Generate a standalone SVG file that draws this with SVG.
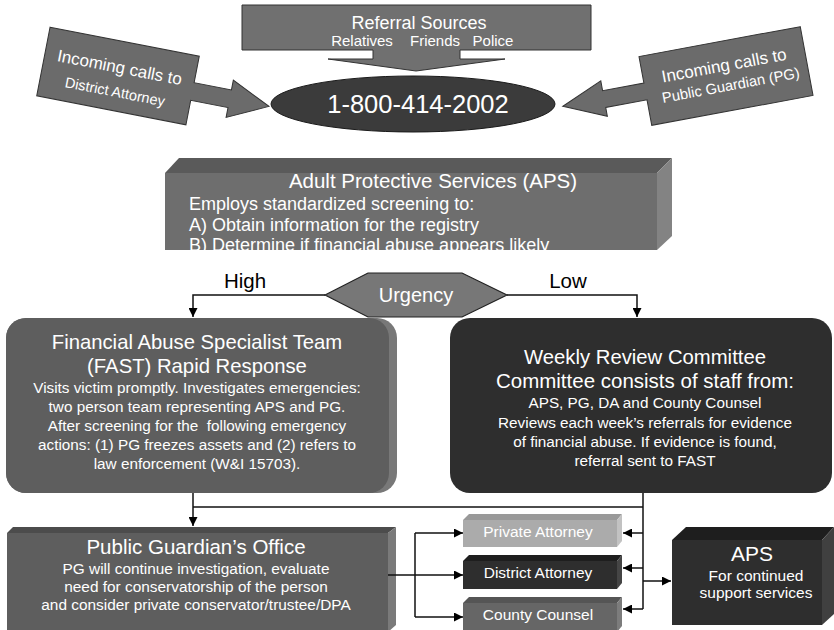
<svg xmlns="http://www.w3.org/2000/svg" width="834" height="630" viewBox="0 0 834 630">
<defs>
<style>
text{font-family:"Liberation Sans",Arial,Helvetica,sans-serif;fill:#fff;text-anchor:middle}
.blk{fill:#000}
.ln{fill:none;stroke:#111;stroke-width:1.5}
.sh{stroke:#333;stroke-width:1}
</style>
<marker id="ah" viewBox="0 0 10 10" refX="10" refY="5" markerWidth="9" markerHeight="9" markerUnits="userSpaceOnUse" orient="auto"><path d="M0,0 L10,5 L0,10 z" fill="#000"/></marker>
<clipPath id="apsclip"><rect x="165" y="160" width="492" height="90"/></clipPath>
</defs>
<rect width="834" height="630" fill="#fff"/>

<g id="referral">
<path class="sh" d="M242,5 H591 V50 H460 V59 H505 L416,71 L328,59 H373 V50 H242 Z" fill="#707070"/>
<text x="419" y="29" font-size="18">Referral Sources</text>
<text font-size="15" y="46"><tspan x="362">Relatives</tspan><tspan x="435">Friends</tspan><tspan x="493">Police</tspan></text>
</g>

<g id="da-calls" transform="translate(118,76) rotate(11)">
<path class="sh" d="M-76,-35 H76 V-8 H114 V-18 L154,1 L114,20 V10 H76 V35 H-76 Z" fill="#6b6b6b"/>
<text x="0" y="-3" font-size="17">Incoming calls to</text>
<text x="0" y="21" font-size="14.5">District Attorney</text>
</g>

<g id="pg-calls" transform="translate(726,76) rotate(-10.5)">
<path class="sh" d="M82,-35 H-82 V-8 H-124 V-18 L-166,0 L-124,18 V9 H-82 V35 H82 Z" fill="#6b6b6b"/>
<text x="0" y="-5" font-size="17">Incoming calls to</text>
<text x="3" y="15" font-size="14.7">Public Guardian (PG)</text>
</g>

<g id="hotline">
<ellipse cx="413" cy="104" rx="142" ry="28" fill="#3b3b3b" stroke="#1a1a1a" stroke-width="1"/>
<text x="418" y="113" font-size="25.5">1-800-414-2002</text>
</g>

<g id="aps">
<polygon points="165,173 179,158 672,158 657,173" fill="#5a5a5a"/>
<polygon points="657,173 672,158 672,236 657,250" fill="#838383"/>
<rect x="165" y="173" width="492" height="77" fill="#6e6e6e"/>
<text x="433" y="188" font-size="20.5">Adult Protective Services (APS)</text>
<g clip-path="url(#apsclip)" style="text-anchor:start">
<text x="189" y="210" font-size="18" style="text-anchor:start">Employs standardized screening to:</text>
<text x="189" y="231" font-size="18" style="text-anchor:start">A) Obtain information for the registry</text>
<text x="189" y="251" font-size="18" style="text-anchor:start">B) Determine if financial abuse appears likely</text>
</g>
</g>

<g id="urgency">
<polygon points="325,295 368,273 462,273 507,295 462,317 368,317" fill="#777" stroke="#222" stroke-width="1.2"/>
<text x="416" y="302" font-size="20">Urgency</text>
</g>
<text class="blk" x="245" y="288" font-size="20.5">High</text>
<text class="blk" x="568" y="288" font-size="20.5">Low</text>

<g id="fast">
<rect x="6" y="318" width="391" height="175" rx="20" fill="#787878"/>
<rect x="6" y="318" width="383" height="175" rx="20" fill="#5e5e5e"/>
<text x="197" y="349" font-size="20.3">Financial Abuse Specialist Team</text>
<text x="197" y="373" font-size="20.3">(FAST) Rapid Response</text>
<text x="197" y="393" font-size="15.3">Visits victim promptly. Investigates emergencies:</text>
<text x="197" y="412" font-size="15.3">two person team representing APS and PG.</text>
<text x="197" y="431" font-size="15.3" xml:space="preserve">After screening for the  following emergency</text>
<text x="197" y="450" font-size="15.3">actions: (1) PG freezes assets and (2) refers to</text>
<text x="197" y="469" font-size="15.3">law enforcement (W&amp;I 15703).</text>
</g>

<g id="weekly">
<rect x="450" y="318" width="382" height="175" rx="20" fill="#2e2e2e"/>
<text x="645" y="364" font-size="20.3">Weekly Review Committee</text>
<text x="645" y="388" font-size="20.5">Committee consists of staff from:</text>
<text x="645" y="408" font-size="15.3">APS, PG, DA and County Counsel</text>
<text x="645" y="428" font-size="15.3">Reviews each week’s referrals for evidence</text>
<text x="645" y="447" font-size="15.3">of financial abuse. If evidence is found,</text>
<text x="645" y="466" font-size="15.3">referral sent to FAST</text>
</g>

<g id="pg-office">
<polygon points="7,533 13,527 396,527 388,533" fill="#4c4c4c"/>
<polygon points="388,533 396,527 396,625 388,632" fill="#7a7a7a"/>
<rect x="7" y="533" width="381" height="99" fill="#5e5e5e"/>
<text x="196" y="554" font-size="20.5">Public Guardian’s Office</text>
<text x="196" y="574" font-size="15.4">PG will continue investigation, evaluate</text>
<text x="196" y="592" font-size="15.4">need for conservatorship of the person</text>
<text x="196" y="610" font-size="15.4">and consider private conservator/trustee/DPA</text>
</g>

<g id="private-attorney">
<polygon points="463,520 469,514 622,514 617,520" fill="#999"/>
<polygon points="617,520 622,514 622,541 617,547" fill="#c2c2c2"/>
<rect x="463" y="520" width="154" height="27" fill="#ababab"/>
<text x="538" y="537" font-size="15.5">Private Attorney</text>
</g>

<g id="district-attorney">
<polygon points="463,561 469,555 622,555 617,561" fill="#1e1e1e"/>
<polygon points="617,561 622,555 622,583 617,589" fill="#454545"/>
<rect x="463" y="561" width="154" height="28" fill="#2e2e2e"/>
<text x="538" y="578" font-size="15.5">District Attorney</text>
</g>

<g id="county-counsel">
<polygon points="463,603 469,597 622,597 617,603" fill="#555"/>
<polygon points="617,603 622,597 622,626 617,632" fill="#7c7c7c"/>
<rect x="463" y="603" width="154" height="29" fill="#666"/>
<text x="538" y="620" font-size="15.5">County Counsel</text>
</g>

<g id="aps-support">
<polygon points="672,540 686,527 834,527 822,540" fill="#1e1e1e"/>
<polygon points="822,540 834,527 834,614 822,625" fill="#404040"/>
<rect x="672" y="540" width="150" height="85" fill="#2e2e2e"/>
<text x="752" y="561" font-size="21">APS</text>
<text x="756" y="581" font-size="15.5">For continued</text>
<text x="756" y="598" font-size="15.5">support services</text>
</g>

<g id="connectors">
<path class="ln" d="M325,295 H193 V317" marker-end="url(#ah)"/>
<path class="ln" d="M507,295 H637 V317" marker-end="url(#ah)"/>
<path class="ln" d="M193,493 V526" marker-end="url(#ah)"/>
<path class="ln" d="M193,507 H643"/>
<path class="ln" d="M643,493 V609"/>
<path class="ln" d="M643,533 H623" marker-end="url(#ah)"/>
<path class="ln" d="M643,568 H623" marker-end="url(#ah)"/>
<path class="ln" d="M643,609 H623" marker-end="url(#ah)"/>
<path class="ln" d="M643,581 H671" marker-end="url(#ah)"/>
<path class="ln" d="M388,575 H415"/>
<path class="ln" d="M415,533 V617"/>
<path class="ln" d="M415,533 H463" marker-end="url(#ah)"/>
<path class="ln" d="M415,575 H463" marker-end="url(#ah)"/>
<path class="ln" d="M415,617 H463" marker-end="url(#ah)"/>
</g>
</svg>
